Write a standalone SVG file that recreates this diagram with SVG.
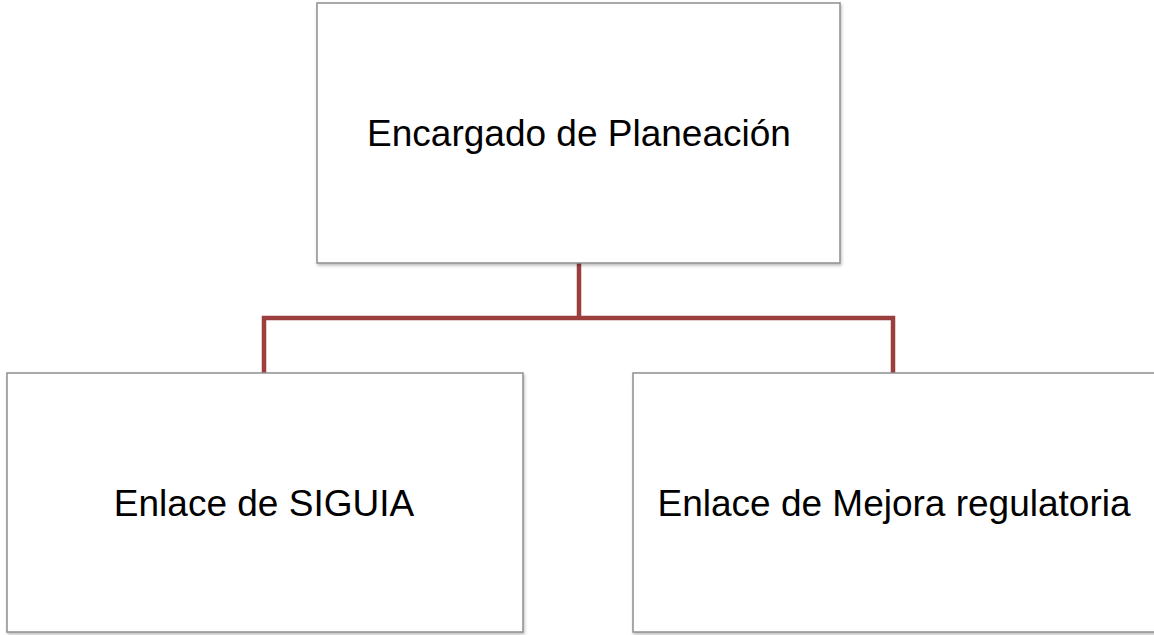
<svg xmlns="http://www.w3.org/2000/svg" width="1154" height="635" viewBox="0 0 1154 635">
<style>
.box{fill:#ffffff;stroke:#8e8e8e;stroke-width:1.5}
.lbl{font-family:"Liberation Sans",Arial,sans-serif;font-size:37px;fill:#000000;text-anchor:middle}
.conn{fill:none;stroke:#9b3e3e;stroke-width:4.5;stroke-linejoin:miter}
</style>
<defs>
<filter id="sh" x="-5%" y="-5%" width="115%" height="115%">
<feDropShadow dx="1" dy="2" stdDeviation="1.5" flood-color="#000000" flood-opacity="0.25"/>
</filter>
</defs>
<rect width="1154" height="635" fill="#ffffff"/>
<g id="connectors">
<path class="conn" d="M579,263 V318 M264,373 V318 H893 V373"/>
</g>
<g id="node-top">
<rect class="box" filter="url(#sh)" x="317" y="3" width="523" height="260"/>
<text class="lbl" x="579" y="146">Encargado de Planeación</text>
</g>
<g id="node-siguia">
<rect class="box" filter="url(#sh)" x="7" y="373" width="516" height="259"/>
<text class="lbl" x="264" y="516">Enlace de SIGUIA</text>
</g>
<g id="node-mejora">
<rect class="box" filter="url(#sh)" x="633" y="373" width="530" height="259"/>
<text class="lbl" x="894" y="516">Enlace de Mejora regulatoria</text>
</g>
</svg>
